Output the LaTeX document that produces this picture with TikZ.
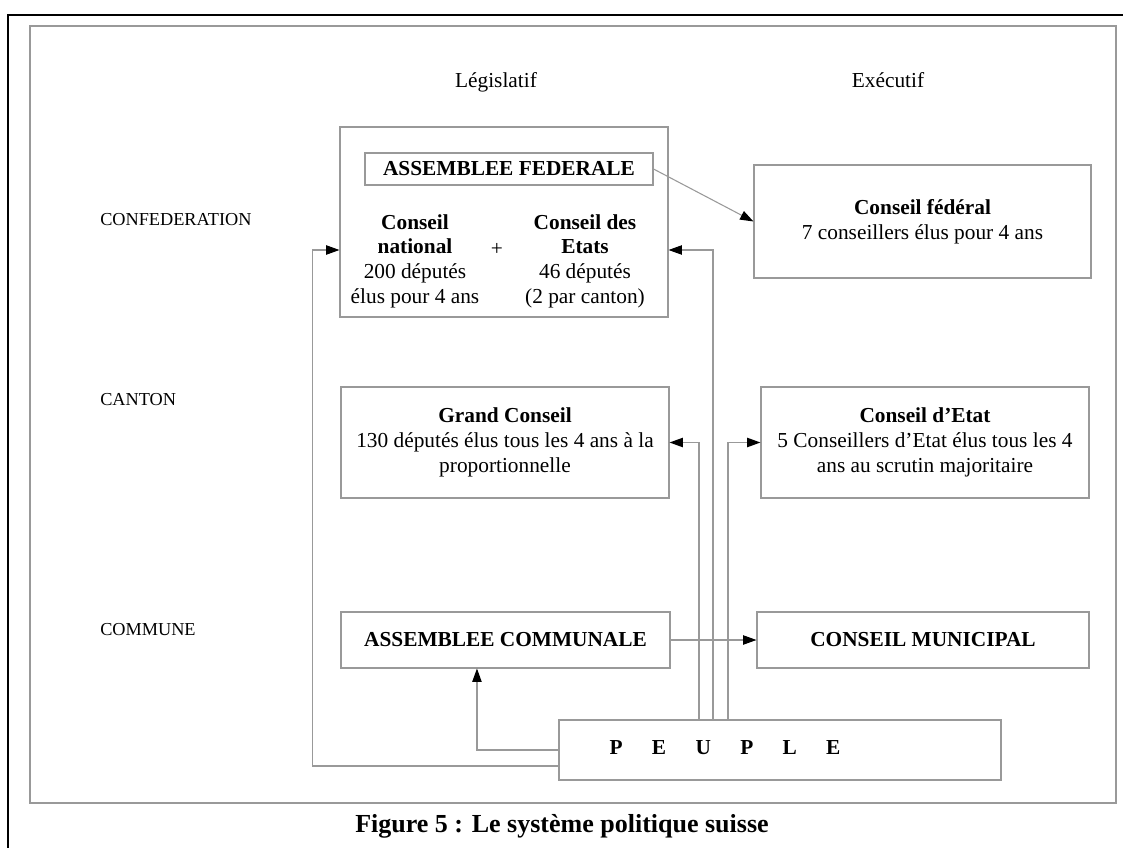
\documentclass[tikz,border=0pt]{standalone}
\usepackage{fontspec}
\setmainfont{Liberation Serif}
\usetikzlibrary{arrows.meta}
\definecolor{linegrey}{gray}{0.6}
\tikzset{
  box/.style={draw=linegrey,line width=0.8pt,align=center,inner sep=0pt},
  link/.style={draw=linegrey,line width=0.8pt,-{Triangle[length=10pt,width=7pt,color=black]}},
  rowlabel/.style={anchor=west,inner sep=0pt,font=\fontsize{13.7}{16}\selectfont},
}

\begin{document}
\begin{tikzpicture}[x=0.75pt,y=-0.75pt,font=\fontsize{16}{18.5}\selectfont]
\useasboundingbox (0,0) rectangle (1123,848);
%% frames
\draw[line width=1.5pt] (8,848)--(8,15)--(1123,15);
\draw[linegrey,line width=1pt] (30,26) rectangle (1116,803);
%% headings
\node[anchor=base] (leg) at (496,88) {Législatif};
\node[anchor=base] (exe) at (888,88) {Exécutif};
\node[rowlabel] (confed) at (100,220) {CONFEDERATION};
\node[rowlabel] (canton) at (100,400) {CANTON};
\node[rowlabel] (commune) at (100,630) {COMMUNE};
%% confederation
\node[box,minimum width=246pt,minimum height=142.5pt] (fedbox) at (504,222) {};
\node[box,minimum width=216pt,minimum height=24pt] (assfed) at (509,169) {\textbf{ASSEMBLEE FEDERALE}};
\node[align=center] (cnat) at (415,261) {\textbf{Conseil}\\\textbf{national}\\200 députés\\élus pour 4 ans};
\node (plus) at (497,249) {+};
\node[align=center] (cetats) at (585,261) {\textbf{Conseil des}\\\textbf{Etats}\\46 députés\\(2 par canton)};
\node[box,minimum width=252.75pt,minimum height=84.75pt] (cfed) at (922.5,221.5) {\textbf{Conseil fédéral}\\7 conseillers élus pour 4 ans};
%% canton
\node[box,minimum width=246pt,minimum height=83.25pt] (gconseil) at (505,442.5) {\textbf{Grand Conseil}\\130 députés élus tous les 4 ans à la\\proportionnelle};
\node[box,minimum width=246pt,minimum height=83.25pt] (cetat) at (925,442.5) {\textbf{Conseil d’Etat}\\5 Conseillers d’Etat élus tous les 4\\ans au scrutin majoritaire};
%% commune
\node[box,minimum width=246.75pt,minimum height=42pt] (acomm) at (505.5,640) {\textbf{ASSEMBLEE COMMUNALE}};
\node[box,minimum width=249pt,minimum height=42pt] (cmun) at (923,640) {\textbf{CONSEIL MUNICIPAL}};
%% people
\node[box,minimum width=331.5pt,minimum height=45pt] (peuple) at (780,750) {};
\node (peupletxt) at (725,748) {\textbf{P\hspace{22pt}E\hspace{22pt}U\hspace{22pt}P\hspace{22pt}L\hspace{22pt}E}};
%% the arrows
\draw[link] (assfed.east) -- (cfed.west);
\draw[link] (acomm.east) -- (cmun.west);
\draw[link] ([yshift=-12pt]peuple.west) -- ++(-246,0) |- ([yshift=-21pt]fedbox.west);
\draw[link] (peuple.west) -| ([xshift=-21.4pt]acomm.south);
\draw[link] ([xshift=-60.75pt]peuple.north) |- (gconseil.east);
\draw[link] ([xshift=-50.25pt]peuple.north) |- ([yshift=-21pt]fedbox.east);
\draw[link] ([xshift=-39pt]peuple.north) |- (cetat.west);
%% caption
\node (caption) at (562,826) {\fontsize{19.5}{22}\selectfont\textbf{Figure 5 : Le système politique suisse}};
\end{tikzpicture}
\end{document}
